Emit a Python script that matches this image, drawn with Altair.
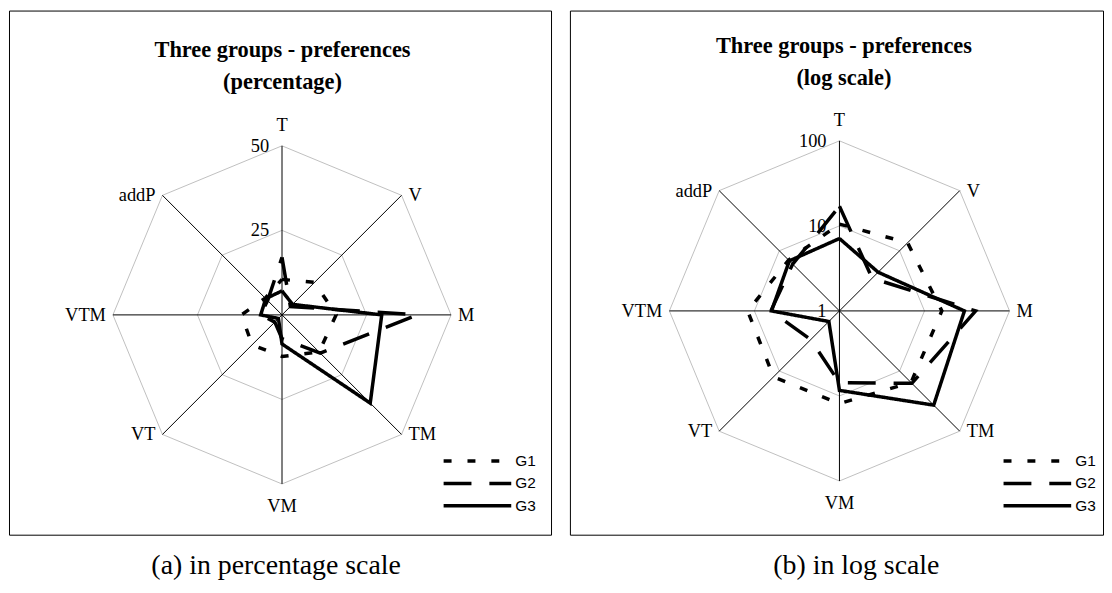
import altair as alt
import pandas as pd

categories = ["T", "V", "M", "TM", "VM", "VT", "VTM", "addP"]
groups = ["G1", "G2", "G3"]
g1 = [10.5, 13.6, 16.0, 15.5, 12.3, 12.5, 12.0, 7.0]
g2 = [17.0, 3.5, 40.0, 16.0, 7.0, 3.0, 6.4, 6.0]
g3 = [7.1, 4.4, 29.5, 36.9, 8.6, 1.5, 6.3, 6.8]
pct_ticks = [25, 50]
log_ticks = [1, 10, 100]
title_lines_pct = ["Three groups - preferences", "(percentage)"]
title_lines_log = ["Three groups - preferences", "(log scale)"]
captions = ["(a) in percentage scale", "(b) in log scale"]

N = len(categories)
rows = []
for g, vals in zip(groups, [g1, g2, g3]):
    for i in range(N + 1):
        rows.append({"group": g, "idx": i, "cat": categories[i % N], "value": vals[i % N]})
series_df = pd.DataFrame(rows)
spoke_df = pd.DataFrame({"idx": list(range(N)), "cat": categories})

SERIF = "Liberation Serif"
SANS = "Liberation Sans"


def panel(kind, ticks, W, H, cx, cy, R, title_lines, title_x, title_y, caption, cap_x, leg_x, leg_y):
    xs = alt.Scale(domain=[-cx / R, (W - cx) / R], nice=False, zero=False)
    ys = alt.Scale(domain=[-(H - cy) / R, cy / R], nice=False, zero=False)
    if kind == "pct":
        rexpr = "datum.value / 50"
    else:
        rexpr = "log(datum.value) / LN10 / 2"
    ang = "datum.idx * PI / 4"

    def X(f):
        return alt.X(f, type="quantitative", scale=xs, axis=None)

    def Y(f):
        return alt.Y(f, type="quantitative", scale=ys, axis=None)

    ring_rows = [{"tick": t, "idx": i, "value": t} for t in ticks if (kind == "pct" or t > 1) for i in range(N + 1)]
    ring_df = pd.DataFrame(ring_rows)
    rings = alt.Chart(ring_df).transform_calculate(
        r=rexpr, a=ang
    ).transform_calculate(
        x="datum.r * sin(datum.a)", y="datum.r * cos(datum.a)"
    ).mark_line(color="#c0c0c0", strokeWidth=1).encode(
        x=X("x"), y=Y("y"), order="idx:Q", detail="tick:N"
    )

    spokes = alt.Chart(spoke_df).transform_calculate(
        a=ang
    ).transform_calculate(
        x0="0", y0="0", x1="sin(datum.a)", y1="cos(datum.a)"
    ).mark_rule(color="black", strokeWidth=1).encode(
        x=X("x0"), y=Y("y0"), x2="x1:Q", y2="y1:Q"
    )

    base_lab = alt.Chart(spoke_df).transform_calculate(
        a=ang
    ).transform_calculate(
        x="sin(datum.a)", y="cos(datum.a)"
    )
    lab_enc = dict(x=X("x"), y=Y("y"), text="cat:N")
    lab_top = base_lab.transform_filter("datum.idx == 0").mark_text(
        font=SERIF, fontSize=18.5, color="black", align="center", baseline="alphabetic", dy=-15
    ).encode(**lab_enc)
    lab_bot = base_lab.transform_filter("datum.idx == 4").mark_text(
        font=SERIF, fontSize=18.5, color="black", align="center", baseline="top", dy=13
    ).encode(**lab_enc)
    lab_right = base_lab.transform_filter("datum.idx >= 1 && datum.idx <= 3").mark_text(
        font=SERIF, fontSize=18.5, color="black", align="left", baseline="middle", dx=7
    ).encode(**lab_enc)
    lab_left = base_lab.transform_filter("datum.idx >= 5").mark_text(
        font=SERIF, fontSize=18.5, color="black", align="right", baseline="middle", dx=-7
    ).encode(**lab_enc)

    tick_df = pd.DataFrame({"value": ticks, "label": [str(t) for t in ticks]})
    tick_labels = alt.Chart(tick_df).transform_calculate(
        r=rexpr
    ).transform_calculate(x0="0").mark_text(
        font=SERIF, fontSize=18.5, color="black", align="right", baseline="middle", dx=-13
    ).encode(x=X("x0"), y=Y("r"), text="label:N")

    lines = alt.Chart(series_df).transform_calculate(
        r=rexpr, a=ang
    ).transform_calculate(
        x="datum.r * sin(datum.a)", y="datum.r * cos(datum.a)"
    ).mark_line(color="black", strokeWidth=3.5, strokeCap="butt").encode(
        x=X("x"), y=Y("y"), order="idx:Q",
        strokeDash=alt.StrokeDash(
            "group:N",
            scale=alt.Scale(domain=groups, range=[[8, 16], [28, 18], [1, 0]]),
            legend=alt.Legend(
                title=None, orient="none", legendX=leg_x, legendY=leg_y,
                symbolType="stroke", symbolSize=68 * 68, symbolStrokeWidth=3.5,
                symbolStrokeColor="black", clipHeight=20, rowPadding=2.5,
                labelFont=SANS, labelFontSize=15.5, labelColor="black",
                labelOffset=2, padding=0,
            ),
        ),
    )

    tdf = pd.DataFrame({"line": title_lines, "n": [0, 1]})
    title1 = alt.Chart(tdf).transform_filter("datum.n == 0").mark_text(
        font=SERIF, fontSize=22.5, fontWeight="bold", color="black", align="center", baseline="alphabetic"
    ).encode(x=alt.value(title_x), y=alt.value(title_y), text="line:N")
    title2 = alt.Chart(tdf).transform_filter("datum.n == 1").mark_text(
        font=SERIF, fontSize=22.5, fontWeight="bold", color="black", align="center", baseline="alphabetic"
    ).encode(x=alt.value(title_x), y=alt.value(title_y + 32), text="line:N")

    cdf = pd.DataFrame({"cap": [caption]})
    cap = alt.Chart(cdf).mark_text(
        font=SERIF, fontSize=28, color="black", align="center", baseline="alphabetic"
    ).encode(x=alt.value(cap_x), y=alt.value(567), text="cap:N")

    return alt.layer(
        rings, spokes, lines, lab_top, lab_bot, lab_right, lab_left, tick_labels, title1, title2, cap
    ).properties(width=W, height=H)


left = panel("pct", pct_ticks, 545, 527, 274.5, 306, 170, title_lines_pct, 275, 47,
             captions[0], 268.6, 435, 443)
right = panel("log", log_ticks, 536, 527, 271, 302, 171, title_lines_log, 275.5, 43,
              captions[1], 288, 434, 443)

chart = alt.hconcat(left, right, spacing=19, bounds="flush").resolve_scale(
    strokeDash="independent"
).resolve_legend(
    strokeDash="independent"
).properties(padding=0, background="white").configure_view(
    stroke="black", strokeWidth=1
)

chart.save("out.html", embed_options={"renderer": "svg", "actions": False})
